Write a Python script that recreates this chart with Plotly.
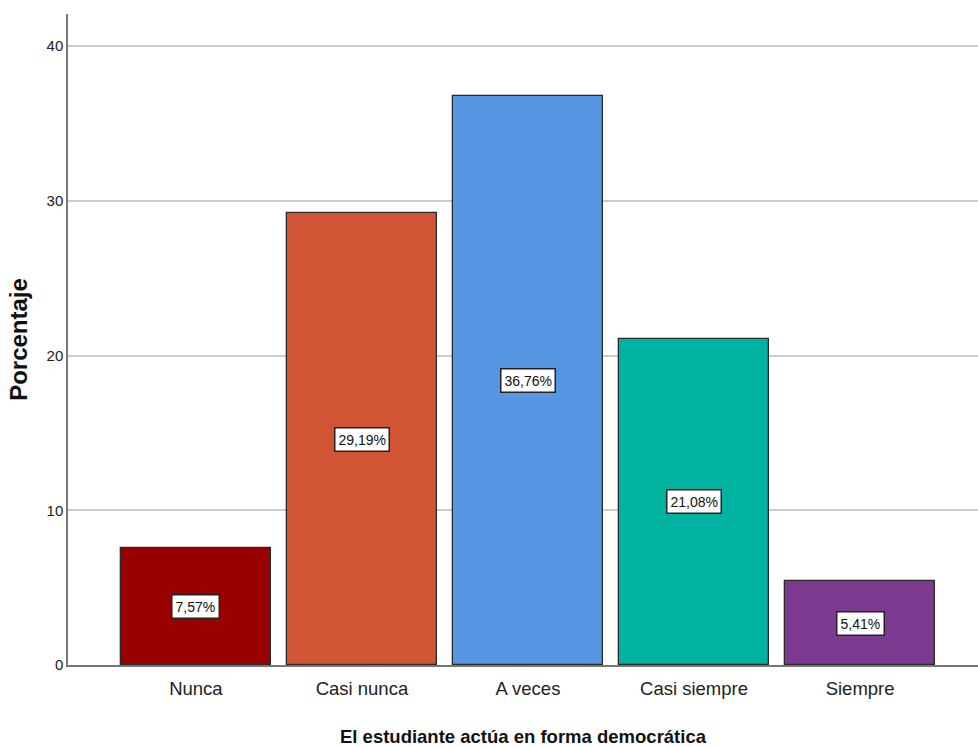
import plotly.graph_objects as go

categories = ["Nunca", "Casi nunca", "A veces", "Casi siempre", "Siempre"]
values = [7.57, 29.19, 36.76, 21.08, 5.41]
colors = ["#990000", "#D15534", "#5696E3", "#00B3A0", "#7B3A8F"]
y_ticks = [0, 10, 20, 30, 40]

FONT = "Liberation Sans Narrow, Arial Narrow, Liberation Sans, Arial, sans-serif"
BOLD = "Liberation Sans, Arial, sans-serif"

fig = go.Figure()
fig.add_trace(go.Bar(
    x=list(range(len(categories))), y=values,
    marker=dict(color=colors, line=dict(color="#2a2a2a", width=1.3)),
    width=0.9, hoverinfo="skip",
))

for i, v in enumerate(values):
    fig.add_annotation(
        x=i, y=v / 2, xref="x", yref="y",
        text=f"{v:.2f}%".replace(".", ","), showarrow=False,
        font=dict(family=FONT, size=14, color="#111"),
        bgcolor="white", bordercolor="#222", borderwidth=1.5, borderpad=3,
    )

fig.update_layout(
    width=978, height=747,
    margin=dict(l=68, r=0, t=14, b=82),
    paper_bgcolor="white", plot_bgcolor="white",
    showlegend=False, bargap=0,
    font=dict(family=FONT, color="#222"),
)
fig.update_xaxes(
    range=[-0.77, 4.71],
    tickmode="array", tickvals=list(range(len(categories))), ticktext=categories,
    tickfont=dict(family=FONT, size=18.5, color="#222"),
    showgrid=False, zeroline=False, ticks="", ticklen=0, ticklabelstandoff=6,
    showline=True, linecolor="#777", linewidth=1.5,
    title=dict(text="<b>El estudiante actúa en forma democrática</b>",
               font=dict(family=BOLD, size=18.5, color="#111"), standoff=32),
)
fig.update_yaxes(
    range=[0, 42.07],
    tickmode="array", tickvals=y_ticks, ticktext=[str(t) for t in y_ticks],
    tickfont=dict(family=FONT, size=15, color="#222"),
    showgrid=True, gridcolor="#cccccc", gridwidth=1.8,
    zeroline=False, ticks="", ticklen=7, tickcolor="white",
    showline=True, linecolor="#777", linewidth=1.5,
    title=dict(text="<b>Porcentaje</b>",
               font=dict(family=BOLD, size=24, color="#111"), standoff=12),
)

fig.write_html("out.html", config={"responsive": False, "displayModeBar": False},
               post_script="document.body.style.margin='0';document.body.style.overflow='hidden';")
